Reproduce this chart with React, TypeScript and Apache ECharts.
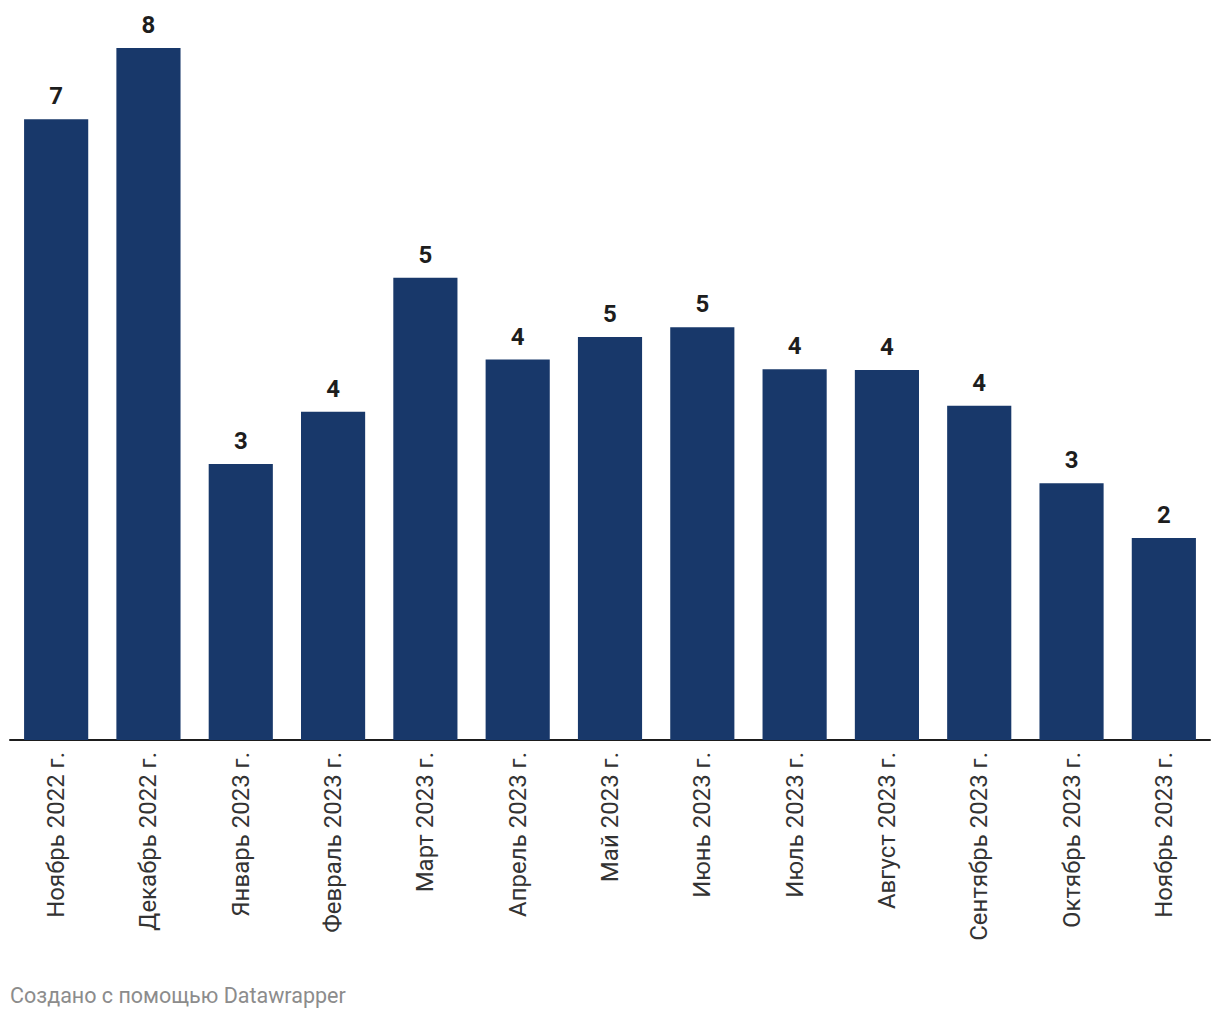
import React, { useEffect, useRef } from "react";
import * as echarts from "echarts";

const categories = [
  "Ноябрь 2022 г.",
  "Декабрь 2022 г.",
  "Январь 2023 г.",
  "Февраль 2023 г.",
  "Март 2023 г.",
  "Апрель 2023 г.",
  "Май 2023 г.",
  "Июнь 2023 г.",
  "Июль 2023 г.",
  "Август 2023 г.",
  "Сентябрь 2023 г.",
  "Октябрь 2023 г.",
  "Ноябрь 2023 г.",
];

const values = [7.13, 7.95, 3.17, 3.77, 5.31, 4.37, 4.63, 4.74, 4.26, 4.25, 3.84, 2.95, 2.32];

const footerText = "Создано с помощью Datawrapper";

export default function App() {
  const ref = useRef<HTMLDivElement>(null);

  useEffect(() => {
    document.body.style.margin = "0";
    if (!ref.current) return;
    const chart = echarts.init(ref.current, null, { renderer: "svg" });
    chart.setOption({
      animation: false,
      backgroundColor: "#ffffff",
      textStyle: { fontFamily: "Roboto" },
      grid: { left: 10, right: 10, top: 0, bottom: 280, containLabel: false },
      xAxis: {
        type: "category",
        data: categories,
        axisTick: { show: false },
        axisLine: { show: true, lineStyle: { color: "#1d1d1d", width: 2 } },
        axisLabel: {
          interval: 0,
          rotate: 90,
          margin: 12,
          fontSize: 24,
          color: "#333333",
          fontFamily: "Roboto",
        },
      },
      yAxis: {
        type: "value",
        min: 0,
        max: 8.5,
        show: false,
        splitLine: { show: false },
      },
      series: [
        {
          type: "bar",
          data: values,
          barCategoryGap: "30.5%",
          itemStyle: { color: "#18386a" },
          label: {
            show: true,
            position: "top",
            distance: 11,
            fontSize: 24,
            fontWeight: "bold",
            color: "#1d1d1d",
            fontFamily: "Roboto",
            formatter: (p: any) => String(Math.round(p.value)),
          },
        },
      ],
      graphic: [
        {
          type: "text",
          left: 10,
          top: 984,
          style: {
            text: footerText,
            fontSize: 21.5,
            fill: "#8c8c8c",
            fontFamily: "Roboto",
          },
        },
      ],
    });
    return () => chart.dispose();
  }, []);

  return <div ref={ref} style={{ width: 1220, height: 1020 }} />;
}
